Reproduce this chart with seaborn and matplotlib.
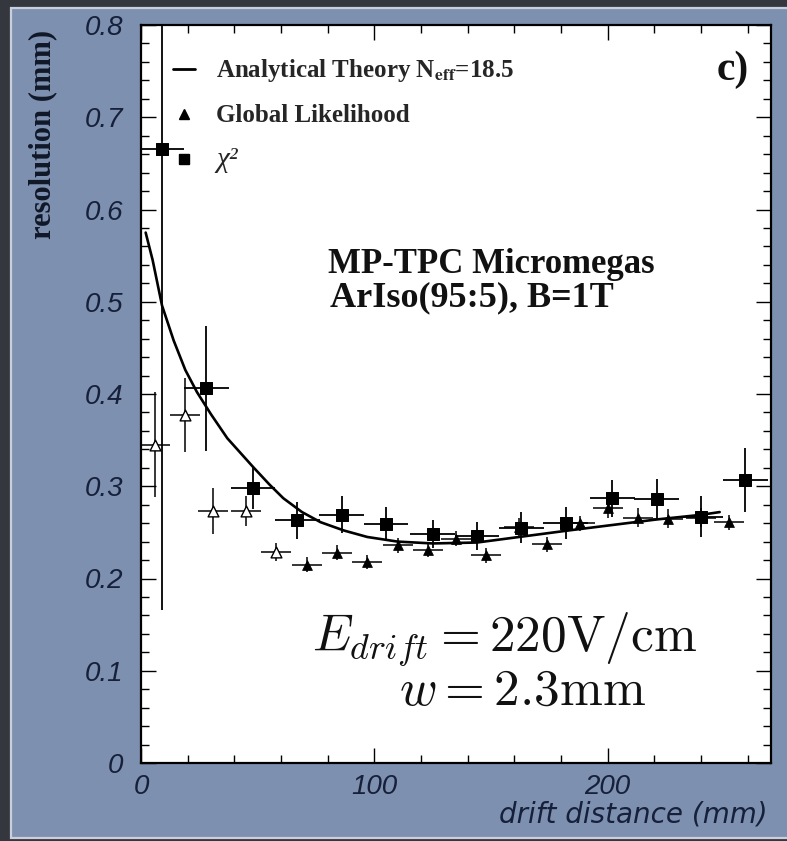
import matplotlib
matplotlib.use("Agg")
import matplotlib.pyplot as plt
import seaborn as sns
import pandas as pd
from matplotlib.lines import Line2D
from matplotlib.patches import Rectangle
from matplotlib.ticker import MultipleLocator

# chi2 fit points (filled squares)
chi2_x = [9, 28, 48, 67, 86, 105, 125, 144, 163, 182, 202, 221, 240, 259]
chi2_y = [0.666, 0.406, 0.298, 0.263, 0.269, 0.259, 0.248, 0.246, 0.255, 0.260,
          0.287, 0.286, 0.267, 0.307]
chi2_yerr = [0.50, 0.068, 0.023, 0.020, 0.020, 0.018, 0.015, 0.015, 0.017, 0.017,
             0.020, 0.022, 0.022, 0.035]
chi2_xerr = [9.6] * len(chi2_x)

# global likelihood points (triangles, first ones open)
gl_x = [6, 19, 31, 45, 58, 71, 84, 97, 110, 123, 135, 148, 162, 174, 188, 200,
        213, 226, 240, 252]
gl_y = [0.345, 0.377, 0.273, 0.273, 0.229, 0.215, 0.228, 0.218, 0.236, 0.231,
        0.243, 0.225, 0.256, 0.237, 0.260, 0.276, 0.266, 0.265, 0.266, 0.261]
gl_yerr = [0.057, 0.040, 0.025, 0.016, 0.010, 0.008, 0.008, 0.008, 0.008, 0.008,
           0.008, 0.008, 0.010, 0.008, 0.008, 0.010, 0.010, 0.010, 0.010, 0.008]
gl_xerr = [6.4] * len(gl_x)
gl_open = [True] * 5 + [False] * 15

# analytical theory curve
theory_x = [2, 5, 9, 14, 19, 24, 30, 37, 48, 55, 61, 69, 77, 87, 97, 110, 125,
            144, 162, 183, 202, 221, 240, 248]
theory_y = [0.575, 0.545, 0.496, 0.458, 0.426, 0.402, 0.378, 0.352, 0.321, 0.302,
            0.287, 0.272, 0.261, 0.252, 0.245, 0.240, 0.238, 0.239, 0.245, 0.252,
            0.258, 0.264, 0.269, 0.272]

yticks = [0, 0.1, 0.2, 0.3, 0.4, 0.5, 0.6, 0.7, 0.8]
ytick_labels = ["0", "0.1", "0.2", "0.3", "0.4", "0.5", "0.6", "0.7", "0.8"]
xticks = [0, 100, 200]
xtick_labels = ["0", "100", "200"]

chi2 = pd.DataFrame({"x": chi2_x, "y": chi2_y})
gl = pd.DataFrame({"x": gl_x, "y": gl_y, "open": gl_open})
theory = pd.DataFrame({"x": theory_x, "y": theory_y})

sns.set_theme(style="ticks")
plt.rcParams["font.family"] = ["Liberation Serif", "DejaVu Serif"]

lab_col = "#16203a"
fig = plt.figure(figsize=(7.87, 8.41), dpi=100, facecolor="#34373e")
fig.patches.append(Rectangle((11 / 787, 3 / 841), 780 / 787, 830 / 841,
                             transform=fig.transFigure, facecolor="#7d90b0",
                             edgecolor="#c9d0dc", lw=1.6, zorder=-5))

ax = fig.add_axes([141 / 787, 78 / 841, 630 / 787, 738 / 841])
ax.set_zorder(2)
ax.set_facecolor("white")

# error bars
ax.errorbar(chi2_x, chi2_y, xerr=chi2_xerr, yerr=chi2_yerr, fmt="none",
            ecolor="black", elinewidth=1.3, capsize=0, zorder=3)
ax.errorbar(gl_x, gl_y, xerr=gl_xerr, yerr=gl_yerr, fmt="none",
            ecolor="black", elinewidth=1.1, capsize=0, zorder=3)

# theory curve
sns.lineplot(data=theory, x="x", y="y", color="black", lw=1.9, ax=ax,
             legend=False, zorder=4)

# markers
sns.scatterplot(data=chi2, x="x", y="y", marker="s", s=80, color="black",
                edgecolor="black", ax=ax, legend=False, zorder=5)
sns.scatterplot(data=gl[~gl["open"]], x="x", y="y", marker="^", s=50,
                color="black", edgecolor="black", ax=ax, legend=False, zorder=5)
sns.scatterplot(data=gl[gl["open"]], x="x", y="y", marker="^", s=60,
                color="white", edgecolor="black", linewidth=1.0, ax=ax,
                legend=False, zorder=5)

ax.set_xlim(0, 270)
ax.set_ylim(0, 0.8)
ax.set_xticks(xticks, labels=xtick_labels)
ax.set_yticks(yticks, labels=ytick_labels)
ax.xaxis.set_minor_locator(MultipleLocator(20))
ax.yaxis.set_minor_locator(MultipleLocator(0.02))
ax.tick_params(which="both", direction="in", top=True, right=True,
               colors="black", width=1.0, labelcolor=lab_col)
ax.tick_params(which="major", length=11)
ax.tick_params(which="minor", length=6)
ax.tick_params(axis="x", pad=8)
ax.tick_params(axis="y", pad=13)
for lbl in ax.get_xticklabels() + ax.get_yticklabels():
    lbl.set_family("Liberation Sans")
    lbl.set_style("italic")
    lbl.set_size(20)
for sp in ax.spines.values():
    sp.set_linewidth(1.6)
    sp.set_color("black")

ax.set_xlabel("drift distance (mm)", family="DejaVu Sans", style="italic",
              size=20, color=lab_col, ha="right", va="center")
ax.xaxis.set_label_coords(0.995, -0.07)
ax.set_ylabel("resolution (mm)", size=22, weight="bold", color="#101828",
              ha="right")
ax.yaxis.set_label_coords(-0.133, 0.993)

# legend
handles = [
    Line2D([], [], color="black", lw=2.0),
    Line2D([], [], color="black", marker="^", ls="none", ms=7),
    Line2D([], [], color="black", marker="s", ls="none", ms=7.5),
]
labels = [r"Analytical Theory N$_{\mathbf{eff}}$=18.5", "Global Likelihood",
          "χ²"]
leg = ax.legend(handles, labels, loc="upper left", bbox_to_anchor=(0.05, 0.956),
                frameon=False, handlelength=0.9, handletextpad=0.85,
                labelspacing=0.8, borderaxespad=0.0, borderpad=0.0,
                prop={"family": "Liberation Serif", "weight": "bold",
                      "size": 18, "math_fontfamily": "stix"})
chi_txt = leg.get_texts()[2]
chi_txt.set_fontstyle("italic")
chi_txt.set_fontweight("normal")
chi_txt.set_fontsize(21)

ax.text(0.94, 0.939, "c)", transform=ax.transAxes, ha="center", va="center",
        size=30, weight="bold", color="#111")
ax.text(0.297, 0.675, "MP-TPC Micromegas", transform=ax.transAxes, ha="left",
        va="center", size=25, weight="bold", color="#111")
ax.text(0.3, 0.63, "ArIso(95:5), B=1T", transform=ax.transAxes, ha="left",
        va="center", size=26, weight="bold", color="#111")
ax.text(0.271, 0.167, r"$E_{drift}=220\mathrm{V/cm}$", transform=ax.transAxes,
        ha="left", va="center", size=37, math_fontfamily="cm", color="#111")
ax.text(0.41, 0.096, r"$w=2.3\mathrm{mm}$", transform=ax.transAxes,
        ha="left", va="center", size=37, math_fontfamily="cm", color="#111")

fig.savefig("out.png", dpi=100, facecolor=fig.get_facecolor())
